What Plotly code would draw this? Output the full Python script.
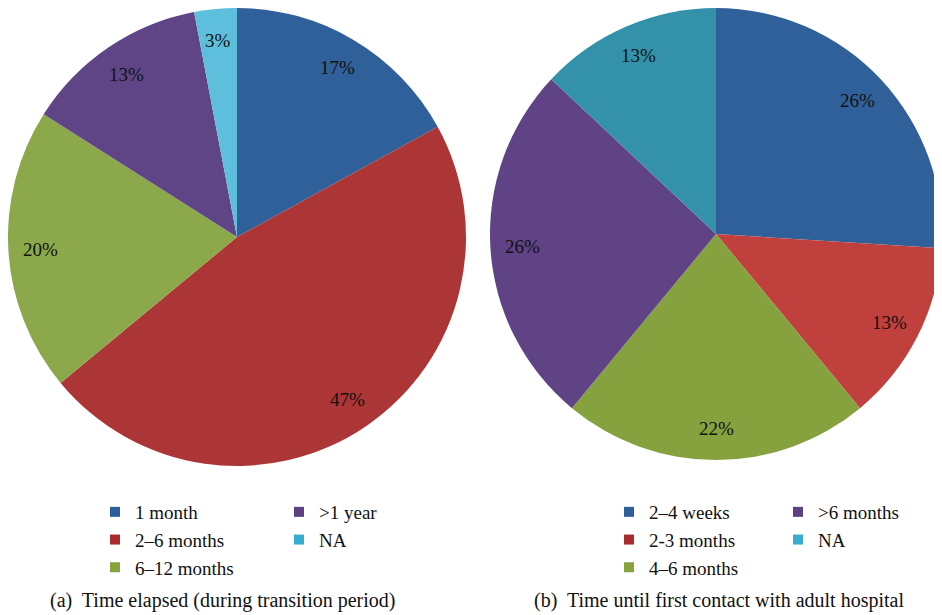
import math
import plotly.graph_objects as go

# page body has an 8px margin, so the figure is drawn 8px in from the top-left
W, H = 934, 607

# ---- data ----
left_categories = ["1 month", "2–6 months", "6–12 months", ">1 year", "NA"]
left_values = [17, 47, 20, 13, 3]
left_colors = ["#30609A", "#AC3636", "#8BA94A", "#5F4585", "#5DBFDC"]
left_legend_colors = ["#2E5E9A", "#A82C2C", "#86A33E", "#5D4283", "#37ADCF"]

right_categories = ["2–4 weeks", "2-3 months", "4–6 months", ">6 months", "NA"]
right_values = [26, 13, 22, 26, 13]
right_colors = ["#30609A", "#C0403D", "#85A23F", "#5F4384", "#3391A9"]
right_legend_colors = ["#2E5E9A", "#A82C2C", "#86A33E", "#5D4283", "#37ADCF"]

captions = ["(a)  Time elapsed (during transition period)",
            "(b)  Time until first contact with adult hospital"]

SERIF = "Liberation Serif"

# pie domains (paper coordinates)
left_dom = dict(x=[0.0, 458 / W], y=[(H - 458) / H, 1.0])
right_dom = dict(x=[482 / W, 1.0], y=[(H - 452) / H, 1.0])

fig = go.Figure()

for vals, cats, cols, dom in [(left_values, left_categories, left_colors, left_dom),
                              (right_values, right_categories, right_colors, right_dom)]:
    fig.add_trace(go.Pie(
        values=vals, labels=cats, sort=False, direction="clockwise", rotation=0,
        marker=dict(colors=cols, line=dict(width=0)),
        textinfo="none", hoverinfo="label+percent", showlegend=False,
        domain=dom,
    ))

# percentage labels placed from slice mid-angles
annotations = []
for vals, dom in [(left_values, left_dom), (right_values, right_dom)]:
    x0, x1 = dom["x"][0] * W, dom["x"][1] * W
    y0, y1 = (1 - dom["y"][1]) * H, (1 - dom["y"][0]) * H
    cx, cy = (x0 + x1) / 2, (y0 + y1) / 2
    R = min(x1 - x0, y1 - y0) / 2
    total = sum(vals)
    cum = 0
    for v in vals:
        mid = (cum + v / 2) / total * 2 * math.pi
        cum += v
        f = 0.86
        px = cx + f * R * math.sin(mid)
        py = cy - f * R * math.cos(mid)
        annotations.append(dict(
            x=px / W, y=1 - py / H, xref="paper", yref="paper",
            xanchor="center", yanchor="middle",
            text=f"{round(v / total * 100)}%", showarrow=False,
            font=dict(family=SERIF, size=19, color="#111111"),
        ))

# captions
for txt, xc in zip(captions, [215 / W, 711 / W]):
    annotations.append(dict(
        x=xc, y=1 - 592 / H, xref="paper", yref="paper", text=txt,
        xanchor="center", yanchor="middle",
        showarrow=False, font=dict(family=SERIF, size=20, color="#111111"),
    ))

# legends (two columns under each pie)
legend_cols = [
    ("legend", left_categories[:3], left_legend_colors[:3]),
    ("legend2", left_categories[3:], left_legend_colors[3:]),
    ("legend3", right_categories[:3], right_legend_colors[:3]),
    ("legend4", right_categories[3:], right_legend_colors[3:]),
]
for lg, cats, cols in legend_cols:
    for c, col in zip(cats, cols):
        fig.add_trace(go.Scatter(
            x=[None], y=[None], mode="markers", name=c, legend=lg,
            marker=dict(symbol="square", size=10, color=col),
            showlegend=True, hoverinfo="skip",
        ))

leg_common = dict(bgcolor="rgba(0,0,0,0)", borderwidth=0, orientation="v",
                  xanchor="left", yanchor="top", tracegroupgap=0,
                  font=dict(family=SERIF, size=19, color="#111111"),
                  itemclick=False, itemdoubleclick=False)
ly = 1 - 485 / H
fig.update_layout(
    width=W, height=H, margin=dict(l=0, r=0, t=0, b=0),
    font=dict(family=SERIF, size=19, color="#111111"),
    paper_bgcolor="white", plot_bgcolor="white",
    xaxis=dict(visible=False), yaxis=dict(visible=False),
    annotations=annotations,
    legend=dict(x=87 / W, y=ly, **leg_common),
    legend2=dict(x=271 / W, y=ly, **leg_common),
    legend3=dict(x=601 / W, y=ly, **leg_common),
    legend4=dict(x=770 / W, y=ly, **leg_common),
)

fig.write_html("out.html")
